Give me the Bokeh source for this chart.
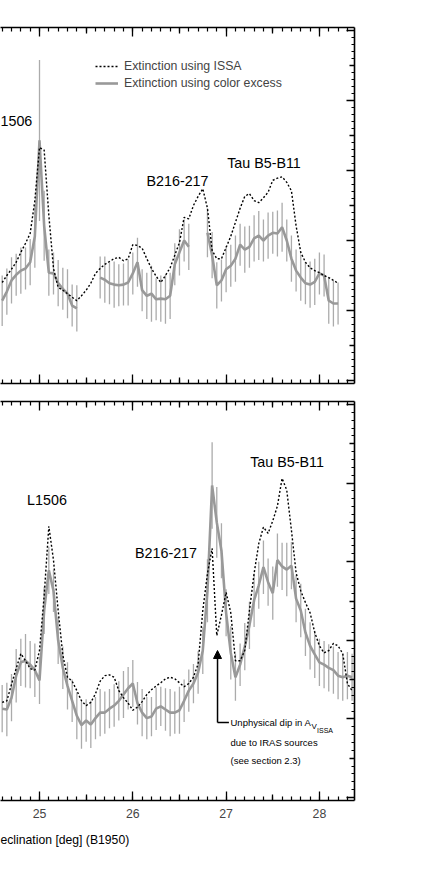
import math
from bokeh.plotting import figure
from bokeh.layouts import column
from bokeh.models import (LinearAxis, FixedTicker, Range1d, Label, Legend, Title,
                          LegendItem, Arrow, NormalHead, ColumnDataSource)
from bokeh.embed import file_html
from bokeh.resources import INLINE

nan = float("nan")
FONT = "Liberation Sans"

# Declination [deg] (B1950) of each sample
dec = [24.60, 24.65, 24.70, 24.75, 24.80, 24.85, 24.90, 24.95, 25.00, 25.05,
       25.10, 25.15, 25.20, 25.25, 25.30, 25.35, 25.40, 25.45, 25.50, 25.55,
       25.60, 25.65, 25.70, 25.75, 25.80, 25.85, 25.90, 25.95, 26.00, 26.05,
       26.10, 26.15, 26.20, 26.25, 26.30, 26.35, 26.40, 26.45, 26.50, 26.55,
       26.60, 26.65, 26.70, 26.75, 26.80, 26.85, 26.90, 26.95, 27.00, 27.05,
       27.10, 27.15, 27.20, 27.25, 27.30, 27.35, 27.40, 27.45, 27.50, 27.55,
       27.60, 27.65, 27.70, 27.75, 27.80, 27.85, 27.90, 27.95, 28.00, 28.05,
       28.10, 28.15, 28.20, 28.25, 28.30, 28.35]

# Upper panel
top_issa = [1.40, 1.50, 1.59, 1.69, 1.83, 1.96, 2.10, 2.57, 3.33, 3.29,
            2.36, 1.60, 1.33, 1.29, 1.24, 1.19, 1.14, 1.21, 1.29, 1.39,
            1.53, 1.60, 1.66, 1.70, 1.74, 1.76, 1.71, 1.74, 1.94, 1.93,
            1.89, 1.74, 1.60, 1.49, 1.40, 1.50, 1.61, 1.79, 1.97, 2.33,
            2.31, 2.50, 2.63, 2.74, 2.46, 1.86, 1.74, 1.74, 1.90, 2.06,
            2.26, 2.46, 2.63, 2.67, 2.57, 2.54, 2.61, 2.69, 2.86, 2.89,
            2.91, 2.83, 2.71, 2.21, 1.83, 1.69, 1.61, 1.57, 1.54, 1.50,
            1.47, 1.43, 1.39, nan, nan, nan]
top_color = [1.14, 1.27, 1.43, 1.51, 1.57, 1.60, 1.69, 2.06, 3.43, 2.21,
             1.54, 1.53, 1.39, 1.31, 1.24, 1.07, 1.03, nan, nan, nan,
             nan, 1.47, 1.44, 1.39, 1.37, 1.36, 1.37, 1.40, 1.53, 1.69,
             1.29, 1.21, 1.24, 1.16, 1.17, 1.16, 1.21, 1.66, 1.83, 2.00,
             1.91, nan, nan, nan, 2.11, 1.79, 1.36, 1.43, 1.59, 1.64,
             1.74, 1.94, 1.87, 1.91, 2.03, 2.07, 2.00, 2.07, 2.11, 2.10,
             2.19, 2.00, 1.74, 1.57, 1.47, 1.39, 1.37, 1.41, 1.53, 1.50,
             1.14, 1.10, 1.10, nan, nan, nan]
top_err = [0.36, 0.33, 0.33, 0.30, 0.33, 0.30, 0.33, 0.45, 1.15, 0.50,
           0.33, 0.30, 0.33, 0.30, 0.35, 0.30, 0.33, 0.30, 0.30, 0.30,
           0.30, 0.30, 0.33, 0.30, 0.33, 0.30, 0.30, 0.33, 0.30, 0.35,
           0.30, 0.33, 0.40, 0.30, 0.33, 0.35, 0.33, 0.30, 0.33, 0.30,
           0.33, 0.30, 0.30, 0.30, 0.35, 0.33, 0.33, 0.30, 0.33, 0.30,
           0.33, 0.30, 0.33, 0.30, 0.33, 0.35, 0.30, 0.33, 0.30, 0.33,
           0.35, 0.30, 0.33, 0.30, 0.33, 0.30, 0.33, 0.33, 0.30, 0.30,
           0.33, 0.33, 0.30, 0.30, 0.30, 0.30]

# Lower panel
bot_issa = [1.21, 1.23, 1.44, 1.64, 1.83, 1.74, 1.64, 1.62, 1.87, 2.57,
            3.45, 3.02, 2.38, 1.81, 1.53, 1.48, 1.36, 1.23, 1.17, 1.21,
            1.32, 1.48, 1.55, 1.56, 1.53, 1.36, 1.27, 1.20, 1.11, 1.15,
            1.22, 1.31, 1.37, 1.42, 1.46, 1.51, 1.53, 1.51, 1.46, 1.41,
            1.45, 1.53, 1.70, 2.38, 2.85, 3.17, 2.06, 2.32, 2.61, 2.35,
            1.74, 1.74, 1.87, 2.38, 2.85, 3.23, 3.44, 3.36, 3.52, 3.71,
            4.06, 3.91, 3.40, 2.86, 2.63, 2.48, 2.35, 2.10, 1.93, 1.84,
            1.87, 1.96, 1.93, 1.83, 1.45, 1.36]
bot_color = [1.13, 1.12, 1.27, 1.55, 1.72, 1.74, 1.69, 1.62, 1.49, 2.38,
             2.89, 2.63, 2.00, 1.65, 1.42, 1.23, 1.04, 0.92, 0.98, 0.93,
             1.01, 1.08, 1.08, 1.13, 1.17, 1.23, 1.31, 1.39, 1.45, 1.20,
             1.08, 1.01, 1.03, 1.13, 1.16, 1.12, 1.08, 1.08, 1.11, 1.23,
             1.36, 1.45, 1.59, 1.87, 2.63, 3.97, 3.50, 3.14, 2.35, 1.84,
             1.53, 1.69, 1.92, 2.19, 2.51, 2.70, 2.93, 2.74, 2.60, 3.02,
             2.94, 2.90, 2.95, 2.53, 2.38, 2.10, 1.93, 1.82, 1.72, 1.69,
             1.65, 1.62, 1.55, 1.53, 1.55, 1.53]
bot_err = [0.30, 0.34, 0.30, 0.34, 0.30, 0.34, 0.30, 0.34, 0.30, 0.30,
           0.30, 0.27, 0.30, 0.27, 0.30, 0.27, 0.30, 0.30, 0.27, 0.30,
           0.27, 0.30, 0.27, 0.25, 0.27, 0.25, 0.30, 0.27, 0.30, 0.27,
           0.30, 0.27, 0.25, 0.27, 0.25, 0.27, 0.30, 0.27, 0.30, 0.27,
           0.27, 0.25, 0.27, 0.30, 0.40, 0.55, 0.45, 0.35, 0.30, 0.34,
           0.30, 0.27, 0.30, 0.30, 0.34, 0.30, 0.34, 0.30, 0.34, 0.34,
           0.30, 0.34, 0.30, 0.30, 0.34, 0.30, 0.30, 0.30, 0.30, 0.30,
           0.30, 0.30, 0.30, 0.30, 0.30, 0.30]

x_major = [24, 25, 26, 27, 28, 29]
x_half = [24.5, 25.5, 26.5, 27.5, 28.5]
x_minor = [round(24 + 0.1 * i, 1) for i in range(51)]
y_major = [0, 1, 2, 3, 4, 5]
y_half = [0.5, 1.5, 2.5, 3.5, 4.5]
y_minor = [round(0.1 * i, 1) for i in range(51)]
x_tick_labels = {25: "25", 26: "26", 27: "27", 28: "28"}
x_title = "eclination [deg]  (B1950)"

X_RANGE = (24.582, 28.376)


def hidden_axis(ticks, minor, tin, minor_in, line=True):
    ax = LinearAxis(ticker=FixedTicker(ticks=ticks, minor_ticks=minor))
    ax.major_tick_in = tin
    ax.major_tick_out = 0
    ax.minor_tick_in = minor_in
    ax.minor_tick_out = 0
    ax.major_tick_line_width = 1.3
    ax.minor_tick_line_width = 1.2
    ax.major_label_text_font_size = "0px"
    ax.major_label_text_color = None
    ax.major_label_standoff = 0
    if line:
        ax.axis_line_width = 1.6
    else:
        ax.axis_line_color = None
    return ax


def make_fig(height, yr, top, bottom):
    p = figure(width=368, height=height,
               x_range=Range1d(*X_RANGE), y_range=Range1d(*yr),
               x_axis_location=None, y_axis_location=None,
               toolbar_location=None, output_backend="svg",
               min_border_left=0, min_border_right=14,
               min_border_top=top, min_border_bottom=bottom,
               outline_line_color=None)
    p.xgrid.grid_line_color = None
    p.ygrid.grid_line_color = None
    p.add_layout(hidden_axis(x_major, x_minor, 9, 4), "above")
    p.add_layout(hidden_axis(x_half, [], 6, 0, line=False), "above")
    p.add_layout(hidden_axis(y_major, y_minor, 8, 3), "right")
    p.add_layout(hidden_axis(y_half, [], 5, 0, line=False), "right")
    return p


def draw(p, issa, col, err):
    lo = [c - e for c, e in zip(col, err)]
    hi = [c + e for c, e in zip(col, err)]
    src = ColumnDataSource(dict(x=dec, issa=issa, col=col, lo=lo, hi=hi))
    p.segment(x0="x", y0="lo", x1="x", y1="hi", source=src,
              line_color="#ababab", line_width=1.3)
    rc = p.line("x", "col", source=src, line_color="#999999", line_width=2.6)
    ri = p.line("x", "issa", source=src, line_color="black", line_width=1.4,
                line_dash="2 2")
    return ri, rc


def lab(p, x, y, text, size, align="center"):
    p.add_layout(Label(x=x, y=y, text=text, text_font=FONT,
                       text_font_size=size, text_align=align,
                       text_baseline="middle", text_color="black"))


# ---------------- upper panel ----------------
p1 = make_fig(392, (-0.043, 5.043), 27, 9)
p1.add_layout(hidden_axis(x_half, [], 6, 0, line=False), "below")
p1.add_layout(hidden_axis(x_major, x_minor, 9, 4), "below")
ri1, rc1 = draw(p1, top_issa, top_color, top_err)

legend = Legend(items=[LegendItem(label="Extinction using ISSA", renderers=[ri1]),
                       LegendItem(label="Extinction using color excess", renderers=[rc1])],
                location=(95, 293), padding=0, margin=0, spacing=3,
                glyph_width=23, glyph_height=14, label_height=14,
                label_standoff=6, border_line_color=None,
                background_fill_alpha=0, label_text_font=FONT,
                label_text_font_size="12.3px")
p1.add_layout(legend)

lab(p1, 24.582, 3.714, "1506", "14.3px", "left")
lab(p1, 26.479, 2.857, "B216-217", "14.3px")
lab(p1, 27.406, 3.114, "Tau B5-B11", "14.3px")

# ---------------- lower panel ----------------
p2 = make_fig(478, (-0.038, 5.038), 9, 70)
p2.add_layout(hidden_axis(x_half, [], 6, 0, line=False), "below")
xb = LinearAxis(ticker=FixedTicker(ticks=x_major, minor_ticks=x_minor))
xb.major_tick_in = 9
xb.major_tick_out = 0
xb.minor_tick_in = 4
xb.minor_tick_out = 0
xb.major_tick_line_width = 1.3
xb.minor_tick_line_width = 1.2
xb.axis_line_width = 1.6
xb.major_label_overrides = x_tick_labels
xb.major_label_text_font = FONT
xb.major_label_text_font_size = "12.3px"
xb.major_label_standoff = 8
p2.add_layout(xb, "below")
p2.add_layout(Title(text=x_title, align="left", text_font=FONT,
                    text_font_size="12.2px", text_font_style="normal",
                    text_color="black", standoff=20, offset=0), "below")
draw(p2, bot_issa, bot_color, bot_err)

lab(p2, 25.080, 3.791, "L1506", "14.3px")
lab(p2, 26.356, 3.117, "B216-217", "14.3px")
lab(p2, 27.653, 4.262, "Tau B5-B11", "14.3px")

p2.add_layout(Arrow(x_start=26.908, y_start=0.954, x_end=26.908, y_end=1.870,
                    line_width=1.5, line_color="black",
                    end=NormalHead(size=8, fill_color="black", line_color="black")))
p2.add_layout(Arrow(x_start=26.908, y_start=0.954, x_end=27.030, y_end=0.954,
                    line_width=1.5, line_color="black", end=None))
lab(p2, 27.047, 0.954, "Unphysical dip in A", "9.5px", "left")
lab(p2, 27.915, 0.900, "V", "8px", "left")
lab(p2, 27.975, 0.850, "ISSA", "7px", "left")
lab(p2, 27.047, 0.700, "due to IRAS sources", "9.5px", "left")
lab(p2, 27.047, 0.471, "(see section 2.3)", "9.5px", "left")

layout = column(p1, p2, spacing=0)
open("out.html", "w").write(file_html(layout, INLINE))
